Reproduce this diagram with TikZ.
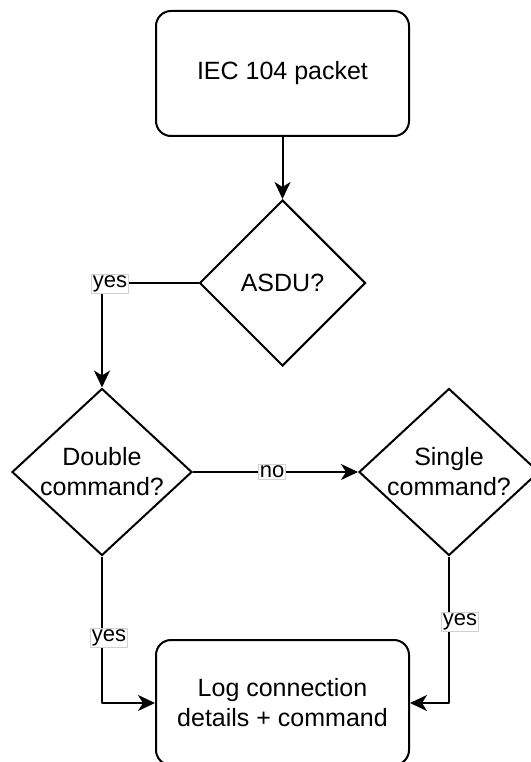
\documentclass[tikz,border=0pt]{standalone}
\usepackage{fontspec}
\setmainfont{Liberation Sans}
\usetikzlibrary{arrows.meta,shapes.geometric}

\tikzset{
  flow/.style={line width=2pt, line join=round},
  arr/.style={flow, -{Stealth[length=17pt,width=16pt,inset=5pt]}},
  procbox/.style={draw, line width=2pt, rounded corners=15pt,
    minimum width=253pt, minimum height=125pt, inner sep=0pt, align=center,
    font=\fontsize{25}{30}\selectfont},
  decision/.style={draw, line width=2pt, diamond, inner sep=0pt, shape aspect=1},
  dtext/.style={align=center, font=\fontsize{25}{30}\selectfont},
  edgelabel/.style={fill=white, draw=black!18, line width=0.6pt, inner sep=1.2pt,
    font=\fontsize{22}{25}\selectfont}
}

\begin{document}
\begin{tikzpicture}[x=1pt,y=-1pt]
  \useasboundingbox (0,0) rectangle (530,762);

  % process boxes
  \node[procbox] (pkt) at (282.5,73.5) {IEC 104 packet};
  \node[procbox] (log) at (282.5,702.5) {Log connection\\details + command};

  % decisions
  \node[decision, minimum width=166pt, minimum height=166pt] (asdu) at (282.5,283) {};
  \node[dtext] (asdut) at (asdu.center) {ASDU?};

  \node[decision, minimum width=180pt, minimum height=167pt] (dbl) at (102,472) {};
  \node[dtext] (dblt) at (dbl.center) {Double\\command?};

  \node[decision, minimum width=180pt, minimum height=167pt] (sgl) at (449,472) {};
  \node[dtext] (sglt) at (sgl.center) {Single\\command?};

  % bend points
  \coordinate (c1) at (102,283);
  \coordinate (c2) at (102,703);
  \coordinate (c3) at (449,703);

  % connectors
  \draw[arr] (pkt.south) -- (asdu.north);
  \draw[arr] (asdu.west) -- (c1) -- (dbl.north);
  \draw[arr] (dbl.east) -- (sgl.west);
  \draw[arr] (dbl.south) -- (c2) -- (log.west |- c2);
  \draw[arr] (sgl.south) -- (c3) -- (log.east |- c3);

  % branch labels
  \node[edgelabel] (l1) at (110,283.5) {yes};
  \node[edgelabel] (l2) at (272,472) {no};
  \node[edgelabel] (l3) at (109,637.5) {yes};
  \node[edgelabel] (l4) at (460,621.5) {yes};
\end{tikzpicture}
\end{document}
